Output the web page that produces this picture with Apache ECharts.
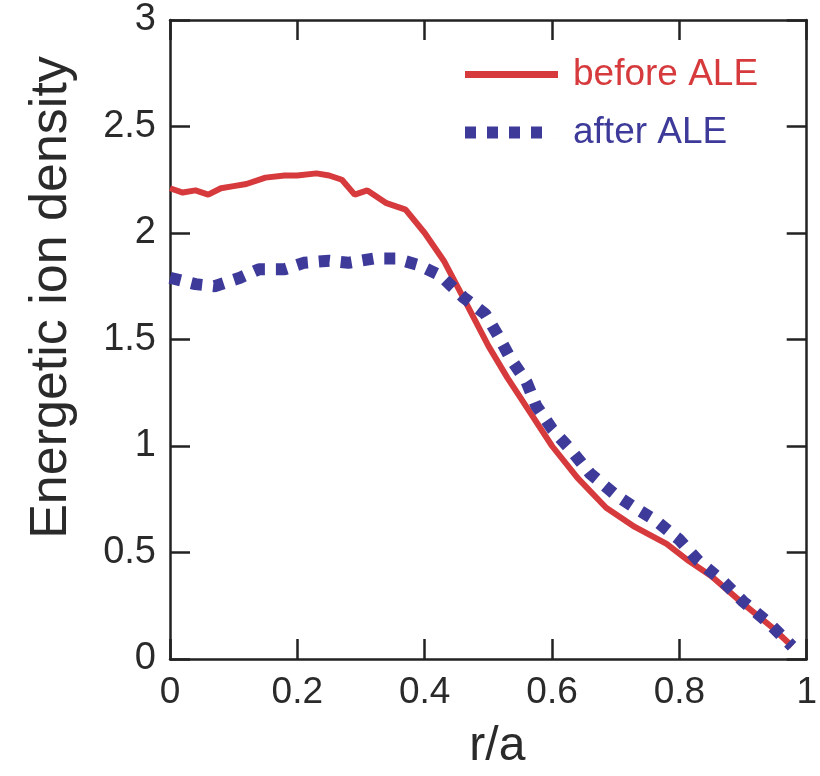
<!DOCTYPE html>
<html>
<head>
<meta charset="utf-8">
<script src="https://cdn.jsdelivr.net/npm/echarts@6/dist/echarts.min.js"></script>
<style>
  html, body { margin: 0; padding: 0; background: #fff; }
  #chart { width: 820px; height: 776px; }
</style>
</head>
<body>
<div id="chart"></div>
<script>
// r/a positions and densities
const beforeX = [0, 0.02, 0.04, 0.06, 0.08, 0.10, 0.12, 0.15, 0.18, 0.20, 0.23, 0.25, 0.27, 0.29, 0.31, 0.34, 0.37, 0.40, 0.43, 0.46, 0.50, 0.53, 0.565, 0.60, 0.64, 0.685, 0.73, 0.78, 0.815, 0.85, 0.90, 0.945, 0.977];
const beforeY = [2.21, 2.19, 2.20, 2.18, 2.21, 2.22, 2.23, 2.26, 2.27, 2.27, 2.28, 2.27, 2.25, 2.18, 2.20, 2.14, 2.11, 2.00, 1.87, 1.70, 1.47, 1.32, 1.16, 1.00, 0.85, 0.71, 0.62, 0.54, 0.46, 0.39, 0.26, 0.15, 0.06];

const afterX = [0, 0.04, 0.07, 0.11, 0.14, 0.18, 0.21, 0.25, 0.28, 0.32, 0.355, 0.39, 0.425, 0.46, 0.495, 0.515, 0.535, 0.56, 0.575, 0.60, 0.63, 0.66, 0.70, 0.73, 0.763, 0.80, 0.83, 0.87, 0.90, 0.94, 0.977];
const afterY = [1.79, 1.76, 1.75, 1.79, 1.83, 1.83, 1.86, 1.87, 1.86, 1.88, 1.88, 1.85, 1.80, 1.70, 1.62, 1.52, 1.41, 1.30, 1.19, 1.08, 0.98, 0.87, 0.77, 0.71, 0.65, 0.56, 0.46, 0.36, 0.27, 0.17, 0.06];

const seriesNames = ['before ALE', 'after ALE'];
const red = '#d63a3c';
const blue = '#3d3a9a';
const font = 'Liberation Sans, Arial, sans-serif';

const zip = (xs, ys) => xs.map((x, i) => [x, ys[i]]);

// legend glyphs: a solid bar and four squares (tiny specks keep the box size)
const solidIcon = 'path://M0,0h0.2v0.2h-0.2z M0,2.5h93v7h-93z M92.8,11.8h0.2v0.2h-0.2z';
const dotIcon = 'path://M0,0h11v12h-11z M22,0h11v12h-11z M44,0h11v12h-11z M66,0h11v12h-11z M92.8,11.8h0.2v0.2h-0.2z';

const chart = echarts.init(document.getElementById('chart'));

const axisLine = { show: true, onZero: false, lineStyle: { color: '#222', width: 2.5 } };
const axisTick = { show: true, inside: true, length: 20, lineStyle: { color: '#222', width: 2.5 } };

const option = {
  backgroundColor: '#fff',
  animation: false,
  grid: { left: 170, top: 20, right: 8, bottom: 110, containLabel: false },
  legend: {
    orient: 'vertical',
    left: 460,
    top: 51,
    itemWidth: 93,
    itemHeight: 12,
    itemGap: 21,
    textStyle: { fontFamily: font, fontSize: 37, padding: [0, 0, 0, 10] },
    data: [
      { name: seriesNames[0], icon: solidIcon, itemStyle: { color: red }, textStyle: { color: red } },
      { name: seriesNames[1], icon: dotIcon, itemStyle: { color: blue }, textStyle: { color: blue } }
    ]
  },
  xAxis: [{
    type: 'value', min: 0, max: 1, interval: 0.2,
    name: 'r/a', nameLocation: 'middle', nameGap: 64,
    nameTextStyle: { fontFamily: font, fontSize: 48, color: '#2a2a2a', padding: [0, 0, 0, 18] },
    axisLine, axisTick, splitLine: { show: false },
    axisLabel: { fontFamily: font, fontSize: 37, color: '#2a2a2a', margin: 15 }
  }, {
    type: 'value', min: 0, max: 1, interval: 0.2, position: 'top',
    axisLine, axisTick, splitLine: { show: false }, axisLabel: { show: false }
  }],
  yAxis: [{
    type: 'value', min: 0, max: 3, interval: 0.5,
    name: 'Energetic ion density', nameLocation: 'middle', nameGap: 92,
    nameTextStyle: { fontFamily: font, fontSize: 52, color: '#2a2a2a', padding: [0, 0, 0, 84] },
    axisLine, axisTick, splitLine: { show: false },
    axisLabel: { fontFamily: font, fontSize: 38, color: '#2a2a2a', margin: 14 }
  }, {
    type: 'value', min: 0, max: 3, interval: 0.5, position: 'right',
    axisLine, axisTick, splitLine: { show: false }, axisLabel: { show: false }
  }],
  series: [{
    name: seriesNames[0],
    type: 'line',
    data: zip(beforeX, beforeY),
    showSymbol: false,
    symbol: 'none',
    color: red,
    lineStyle: { color: red, width: 6 },
    z: 2
  }, {
    name: seriesNames[1],
    type: 'line',
    data: zip(afterX, afterY),
    showSymbol: false,
    symbol: 'none',
    color: blue,
    lineStyle: { color: blue, width: 12, type: [11, 11], cap: 'butt' },
    z: 3
  }]
};

chart.setOption(option);
</script>
</body>
</html>
